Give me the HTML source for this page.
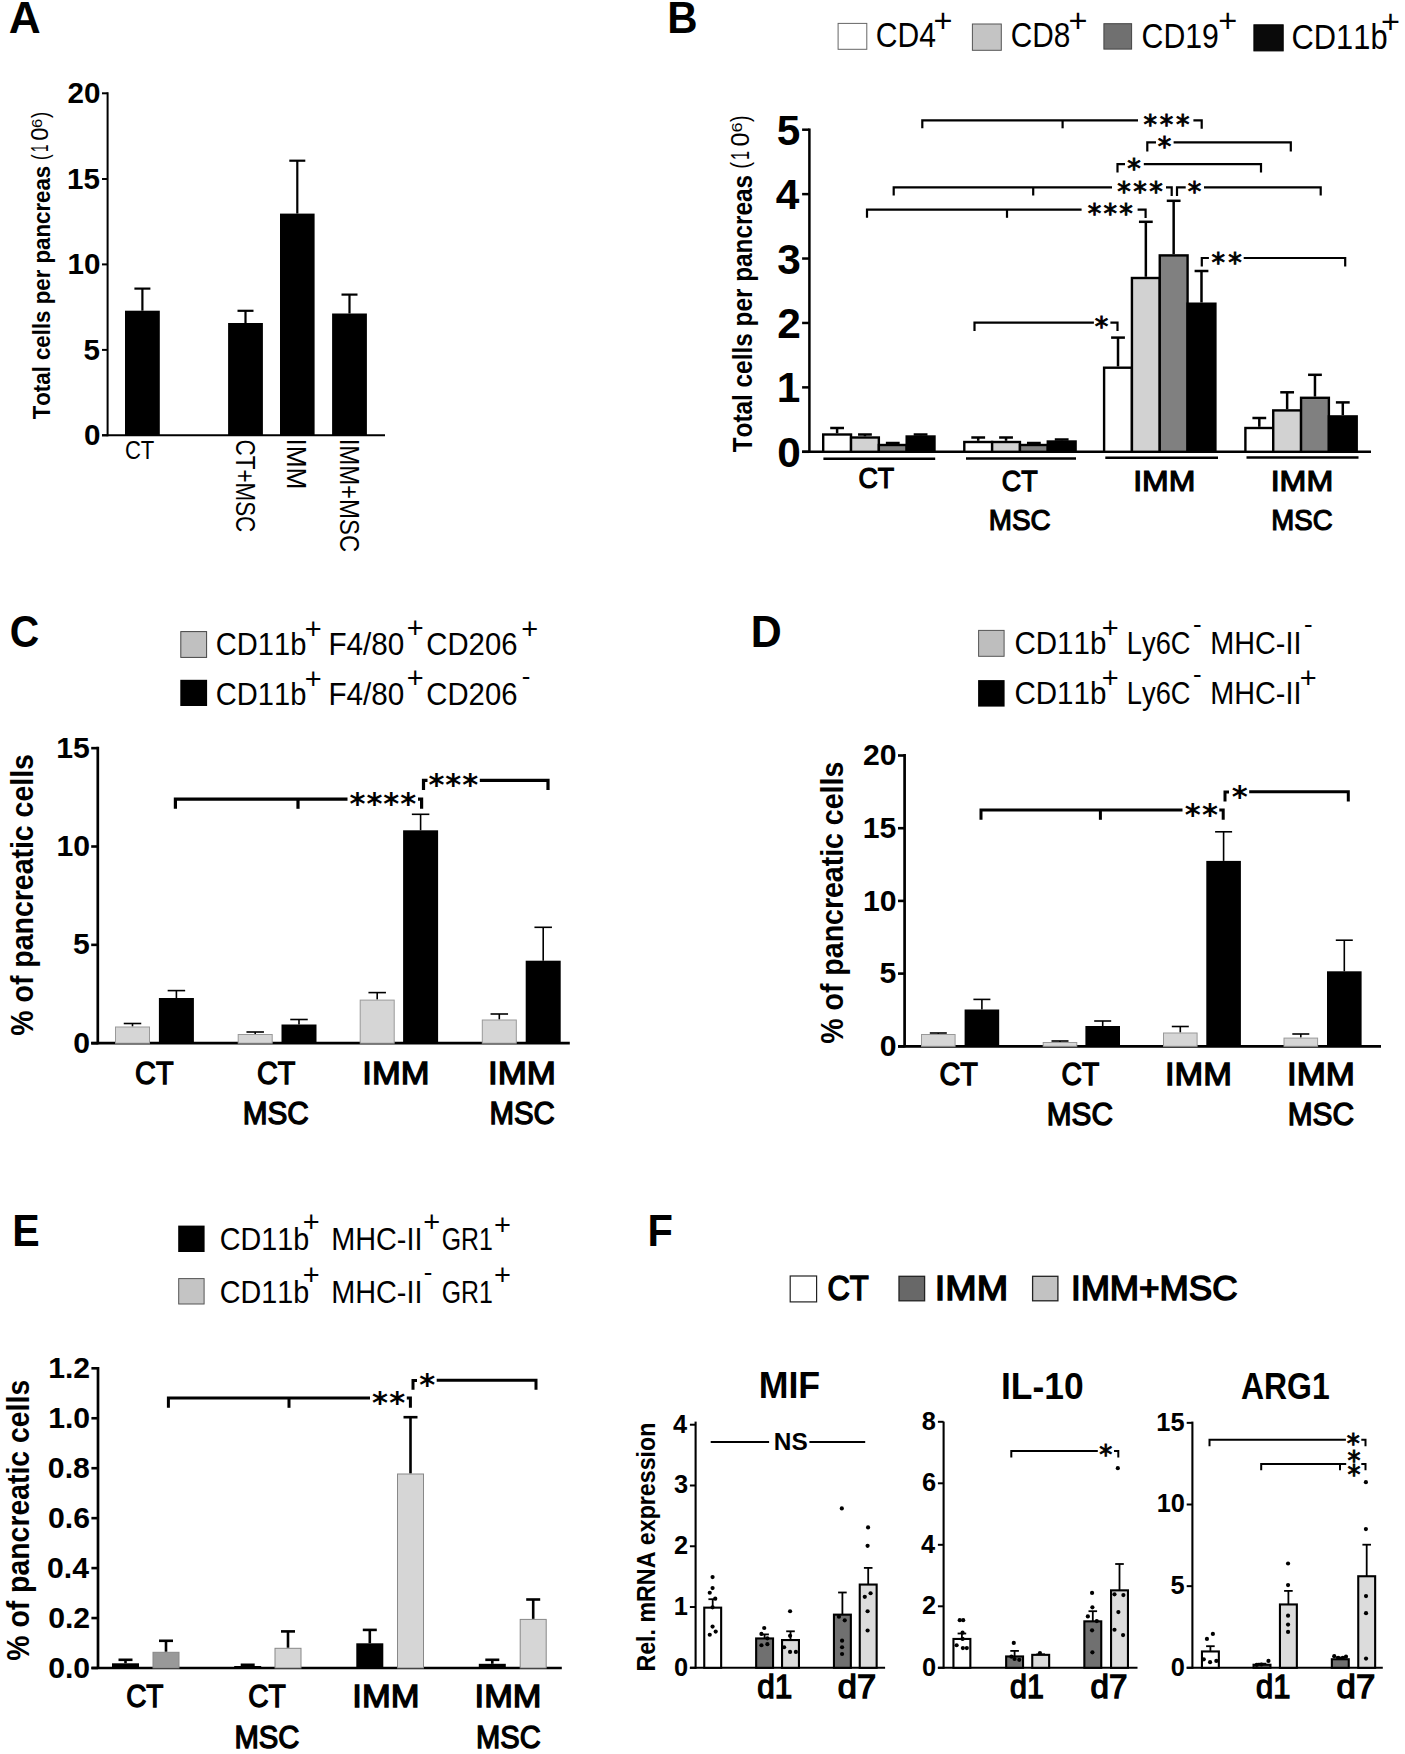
<!DOCTYPE html>
<html><head><meta charset="utf-8"><title>Figure</title>
<style>
html,body{margin:0;padding:0;background:#fff}
svg{display:block}
text{font-family:"Liberation Sans",sans-serif;fill:#000;stroke:none;font-kerning:none}
.b{font-weight:bold}
.sb{stroke:#000;stroke-linejoin:miter}
.stb{font-family:"DejaVu Sans",sans-serif;font-weight:bold}
.st{font-family:"DejaVu Sans",sans-serif;stroke:#000;stroke-width:0.9px}
line,polyline{stroke:#000;fill:none}
</style></head><body>
<svg width="1405" height="1754" viewBox="0 0 1405 1754">
<rect x="0" y="0" width="1405" height="1754" fill="#fff"/>
<!-- panel letters -->
<text class="b" transform="translate(8.7 32.6) scale(1.0177 1)" font-size="43.5">A</text>
<text class="b" transform="translate(667.29 32.6) scale(0.9650 1)" font-size="43.5">B</text>
<text class="b" transform="translate(9.63 646.5) scale(0.9388 1)" font-size="43.5">C</text>
<text class="b" transform="translate(750.73 646.9) scale(0.9858 1)" font-size="43.5">D</text>
<text class="b" transform="translate(12.15 1245.5) scale(0.9465 1)" font-size="43.5">E</text>
<text class="b" transform="translate(647.42 1245.8) scale(0.9561 1)" font-size="43.5">F</text>
<!-- panel A -->
<line x1="107.6" y1="92.3" x2="107.6" y2="436.3" stroke-width="2"/>
<line x1="102" y1="435.3" x2="385" y2="435.3" stroke-width="2"/>
<line x1="102" y1="93.3" x2="107.6" y2="93.3" stroke-width="2"/>
<text class="b" transform="translate(67.49 103.3) scale(1.0000 1)" font-size="29.6">20</text>
<line x1="102" y1="179" x2="107.6" y2="179" stroke-width="2"/>
<text class="b" transform="translate(67.1 189) scale(1.0000 1)" font-size="29.6">15</text>
<line x1="102" y1="264.4" x2="107.6" y2="264.4" stroke-width="2"/>
<text class="b" transform="translate(67.49 274.4) scale(1.0000 1)" font-size="29.6">10</text>
<line x1="102" y1="349.9" x2="107.6" y2="349.9" stroke-width="2"/>
<text class="b" transform="translate(83.56 359.9) scale(1.0000 1)" font-size="29.6">5</text>
<line x1="102" y1="435.3" x2="107.6" y2="435.3" stroke-width="2"/>
<text class="b" transform="translate(83.95 445.3) scale(1.0000 1)" font-size="29.6">0</text>
<text class="b" transform="translate(50.2 419.35) rotate(-90) scale(0.9241 1)" font-size="24.1">Total cells per pancreas</text>
<text transform="translate(48.2 160.05) rotate(-90) scale(0.7161 1)" font-size="23.7">(</text>
<text transform="translate(48.2 152.12) rotate(-90) scale(0.5676 1)" font-size="23.7">1</text>
<text transform="translate(48.2 140.83) rotate(-90) scale(1.0062 1)" font-size="23.7">0</text>
<text transform="translate(41.6 127.95) rotate(-90) scale(1.1835 1)" font-size="14.1">6</text>
<text transform="translate(48.2 118.11) rotate(-90) scale(0.7798 1)" font-size="23.7">)</text>
<line x1="142.4" y1="288.6" x2="142.4" y2="310.7" stroke-width="2.2"/>
<line x1="134.4" y1="288.6" x2="150.4" y2="288.6" stroke-width="2.2"/>
<rect x="125" y="310.7" width="34.8" height="124.6" fill="#000"/>
<line x1="245.5" y1="310.8" x2="245.5" y2="323" stroke-width="2.2"/>
<line x1="237.5" y1="310.8" x2="253.5" y2="310.8" stroke-width="2.2"/>
<rect x="228.1" y="323" width="34.8" height="112.3" fill="#000"/>
<line x1="297.3" y1="160.7" x2="297.3" y2="213.6" stroke-width="2.2"/>
<line x1="289.3" y1="160.7" x2="305.3" y2="160.7" stroke-width="2.2"/>
<rect x="280" y="213.6" width="34.6" height="221.7" fill="#000"/>
<line x1="349.5" y1="294.6" x2="349.5" y2="313.5" stroke-width="2.2"/>
<line x1="341.5" y1="294.6" x2="357.5" y2="294.6" stroke-width="2.2"/>
<rect x="332.1" y="313.5" width="34.8" height="121.8" fill="#000"/>
<text transform="translate(124.88 458.6) scale(0.8623 1)" font-size="25.6">CT</text>
<text transform="translate(236.2 439.56) rotate(90) scale(0.8303 1)" font-size="27">CT+MSC</text>
<text transform="translate(287.4 438.48) rotate(90) scale(0.9712 1)" font-size="27">IMM</text>
<text transform="translate(339.6 438.69) rotate(90) scale(0.8851 1)" font-size="27">IMM+MSC</text>
<!-- panel B -->
<line x1="809.4" y1="128.4" x2="809.4" y2="452.8" stroke-width="2.5"/>
<line x1="802.1" y1="451.8" x2="1371" y2="451.8" stroke-width="2.6"/>
<line x1="802.1" y1="451.8" x2="809.4" y2="451.8" stroke-width="2.5"/>
<text class="b" transform="translate(777.36 466.8) scale(1.0000 1)" font-size="42.4">0</text>
<line x1="802.1" y1="387.38" x2="809.4" y2="387.38" stroke-width="2.5"/>
<text class="b" transform="translate(776.8 402.38) scale(1.0000 1)" font-size="42.4">1</text>
<line x1="802.1" y1="322.96" x2="809.4" y2="322.96" stroke-width="2.5"/>
<text class="b" transform="translate(777.32 337.96) scale(1.0000 1)" font-size="42.4">2</text>
<line x1="802.1" y1="258.54" x2="809.4" y2="258.54" stroke-width="2.5"/>
<text class="b" transform="translate(777.15 273.54) scale(1.0000 1)" font-size="42.4">3</text>
<line x1="802.1" y1="194.12" x2="809.4" y2="194.12" stroke-width="2.5"/>
<text class="b" transform="translate(775.85 209.12) scale(1.0000 1)" font-size="42.4">4</text>
<line x1="802.1" y1="129.7" x2="809.4" y2="129.7" stroke-width="2.5"/>
<text class="b" transform="translate(776.8 144.7) scale(1.0000 1)" font-size="42.4">5</text>
<text class="b" transform="translate(751.7 452.37) rotate(-90) scale(0.9056 1)" font-size="26.9">Total cells per pancreas</text>
<text transform="translate(748.9 168.69) rotate(-90) scale(0.8199 1)" font-size="25.3">(</text>
<text transform="translate(748.9 159.95) rotate(-90) scale(0.6509 1)" font-size="25.3">1</text>
<text transform="translate(748.9 146.39) rotate(-90) scale(1.0005 1)" font-size="25.3">0</text>
<text transform="translate(741.9 132.52) rotate(-90) scale(1.1821 1)" font-size="15.4">6</text>
<text transform="translate(748.9 122.11) rotate(-90) scale(0.7752 1)" font-size="25.3">)</text>
<rect x="838.1" y="23.4" width="28.7" height="25.9" fill="#fff" stroke="#666" stroke-width="1"/>
<rect x="972.4" y="24" width="28.9" height="26.3" fill="#c4c4c4" stroke="#555" stroke-width="1"/>
<rect x="1103.9" y="23.7" width="27.7" height="25.4" fill="#707070" stroke="#444" stroke-width="1"/>
<rect x="1253.9" y="24.8" width="29.3" height="26.1" fill="#0a0a0a" stroke="#000" stroke-width="1"/>
<text transform="translate(875.87 47.4) scale(0.8699 1)" font-size="34.6">CD4</text>
<text transform="translate(933.61 32.01) scale(1.0003 1)" font-size="32.51">+</text>
<text transform="translate(1010.79 47.4) scale(0.8612 1)" font-size="34.6">CD8</text>
<text transform="translate(1068.61 32.01) scale(1.0003 1)" font-size="32.51">+</text>
<text transform="translate(1141.56 48.1) scale(0.8746 1)" font-size="34.6">CD19</text>
<text transform="translate(1218.21 31.81) scale(1.0003 1)" font-size="32.51">+</text>
<text transform="translate(1291.53 49) scale(0.8919 1)" font-size="34.6">CD11b</text>
<text transform="translate(1380.91 32.61) scale(1.0003 1)" font-size="32.51">+</text>
<line x1="837.11" y1="428" x2="837.11" y2="433.3" stroke-width="2.5"/>
<line x1="830.21" y1="428" x2="844.01" y2="428" stroke-width="2.5"/>
<rect x="823.2" y="434.5" width="27.82" height="17.3" fill="#fff" stroke="#000" stroke-width="2.4"/>
<line x1="864.94" y1="434.5" x2="864.94" y2="436.3" stroke-width="2.5"/>
<line x1="858.04" y1="434.5" x2="871.84" y2="434.5" stroke-width="2.5"/>
<rect x="851.03" y="437.5" width="27.82" height="14.3" fill="#d2d2d2" stroke="#000" stroke-width="2.4"/>
<line x1="892.76" y1="443" x2="892.76" y2="443.8" stroke-width="2.5"/>
<line x1="885.86" y1="443" x2="899.66" y2="443" stroke-width="2.5"/>
<rect x="878.85" y="445" width="27.82" height="6.8" fill="#808080" stroke="#000" stroke-width="2.4"/>
<line x1="920.59" y1="434.5" x2="920.59" y2="435.3" stroke-width="2.5"/>
<line x1="913.69" y1="434.5" x2="927.49" y2="434.5" stroke-width="2.5"/>
<rect x="906.68" y="436.5" width="27.82" height="15.3" fill="#000" stroke="#000" stroke-width="2.4"/>
<line x1="978.21" y1="437.5" x2="978.21" y2="440.8" stroke-width="2.5"/>
<line x1="971.31" y1="437.5" x2="985.11" y2="437.5" stroke-width="2.5"/>
<rect x="964.3" y="442" width="27.82" height="9.8" fill="#fff" stroke="#000" stroke-width="2.4"/>
<line x1="1006.04" y1="437.5" x2="1006.04" y2="440.8" stroke-width="2.5"/>
<line x1="999.14" y1="437.5" x2="1012.94" y2="437.5" stroke-width="2.5"/>
<rect x="992.13" y="442" width="27.82" height="9.8" fill="#d2d2d2" stroke="#000" stroke-width="2.4"/>
<line x1="1033.86" y1="443" x2="1033.86" y2="443.8" stroke-width="2.5"/>
<line x1="1026.96" y1="443" x2="1040.76" y2="443" stroke-width="2.5"/>
<rect x="1019.95" y="445" width="27.83" height="6.8" fill="#808080" stroke="#000" stroke-width="2.4"/>
<line x1="1061.69" y1="439.5" x2="1061.69" y2="440.3" stroke-width="2.5"/>
<line x1="1054.79" y1="439.5" x2="1068.59" y2="439.5" stroke-width="2.5"/>
<rect x="1047.78" y="441.5" width="27.83" height="10.3" fill="#000" stroke="#000" stroke-width="2.4"/>
<line x1="1118.01" y1="337.6" x2="1118.01" y2="366.5" stroke-width="2.5"/>
<line x1="1111.11" y1="337.6" x2="1124.91" y2="337.6" stroke-width="2.5"/>
<rect x="1104.1" y="367.7" width="27.83" height="84.1" fill="#fff" stroke="#000" stroke-width="2.4"/>
<line x1="1145.84" y1="221.8" x2="1145.84" y2="276.8" stroke-width="2.5"/>
<line x1="1138.94" y1="221.8" x2="1152.74" y2="221.8" stroke-width="2.5"/>
<rect x="1131.93" y="278" width="27.83" height="173.8" fill="#d2d2d2" stroke="#000" stroke-width="2.4"/>
<line x1="1173.66" y1="200.8" x2="1173.66" y2="254.2" stroke-width="2.5"/>
<line x1="1166.76" y1="200.8" x2="1180.56" y2="200.8" stroke-width="2.5"/>
<rect x="1159.75" y="255.4" width="27.83" height="196.4" fill="#808080" stroke="#000" stroke-width="2.4"/>
<line x1="1201.49" y1="271" x2="1201.49" y2="302.5" stroke-width="2.5"/>
<line x1="1194.59" y1="271" x2="1208.39" y2="271" stroke-width="2.5"/>
<rect x="1187.58" y="303.7" width="27.83" height="148.1" fill="#000" stroke="#000" stroke-width="2.4"/>
<line x1="1259.31" y1="418" x2="1259.31" y2="426.8" stroke-width="2.5"/>
<line x1="1252.41" y1="418" x2="1266.21" y2="418" stroke-width="2.5"/>
<rect x="1245.4" y="428" width="27.83" height="23.8" fill="#fff" stroke="#000" stroke-width="2.4"/>
<line x1="1287.14" y1="392.3" x2="1287.14" y2="409.2" stroke-width="2.5"/>
<line x1="1280.24" y1="392.3" x2="1294.04" y2="392.3" stroke-width="2.5"/>
<rect x="1273.23" y="410.4" width="27.83" height="41.4" fill="#d2d2d2" stroke="#000" stroke-width="2.4"/>
<line x1="1314.96" y1="374.8" x2="1314.96" y2="396.6" stroke-width="2.5"/>
<line x1="1308.06" y1="374.8" x2="1321.86" y2="374.8" stroke-width="2.5"/>
<rect x="1301.05" y="397.8" width="27.83" height="54" fill="#808080" stroke="#000" stroke-width="2.4"/>
<line x1="1342.79" y1="402.4" x2="1342.79" y2="415.2" stroke-width="2.5"/>
<line x1="1335.89" y1="402.4" x2="1349.69" y2="402.4" stroke-width="2.5"/>
<rect x="1328.88" y="416.4" width="27.83" height="35.4" fill="#000" stroke="#000" stroke-width="2.4"/>
<line x1="823.4" y1="458.8" x2="935.2" y2="458.8" stroke-width="2.5"/>
<line x1="966" y1="458.4" x2="1076" y2="458.4" stroke-width="2.5"/>
<line x1="1105.3" y1="457.7" x2="1218" y2="457.7" stroke-width="2.5"/>
<line x1="1246.5" y1="457.6" x2="1358.5" y2="457.6" stroke-width="2.5"/>
<text class="sb" transform="translate(858.46 488.28) scale(0.8968 1)" font-size="29.89" stroke-width="1.25">CT</text>
<text class="sb" transform="translate(1001.76 491.28) scale(0.8995 1)" font-size="29.89" stroke-width="1.25">CT</text>
<text class="sb" transform="translate(988.74 529.98) scale(0.9320 1)" font-size="29.89" stroke-width="1.25">MSC</text>
<text class="sb" transform="translate(1133.17 491.08) scale(1.0693 1)" font-size="29.89" stroke-width="1.25">IMM</text>
<text class="sb" transform="translate(1270.65 491.08) scale(1.0769 1)" font-size="29.89" stroke-width="1.25">IMM</text>
<text class="sb" transform="translate(1271.36 529.98) scale(0.9225 1)" font-size="29.89" stroke-width="1.25">MSC</text>
<polyline points="922.3,128.3 922.3,120.3 1138,120.3" stroke-width="2.2"/>
<line x1="1062.6" y1="120.3" x2="1062.6" y2="128.3" stroke-width="2.2"/>
<text class="st" x="1143.59 1159.75 1175.91" y="133.94" font-size="27">***</text>
<polyline points="1193.4,120.3 1201.7,120.3 1201.7,128.7" stroke-width="2.2"/>
<polyline points="1147.3,151.4 1147.3,142.4 1156,142.4" stroke-width="2.2"/>
<text class="st" x="1157.75" y="156.03" font-size="27">*</text>
<polyline points="1173.6,142.4 1290.8,142.4 1290.8,151.4" stroke-width="2.2"/>
<polyline points="1117.5,172.6 1117.5,164.2 1125,164.2" stroke-width="2.2"/>
<text class="st" x="1127.35" y="177.83" font-size="27">*</text>
<polyline points="1143.8,164.2 1261,164.2 1261,172.6" stroke-width="2.2"/>
<polyline points="893.7,195.5 893.7,187.4 1112,187.4" stroke-width="2.2"/>
<line x1="1033.2" y1="187.4" x2="1033.2" y2="195.5" stroke-width="2.2"/>
<text class="st" x="1117.19 1133.25 1149.31" y="201.03" font-size="27">***</text>
<polyline points="1166,187.4 1171.7,187.4 1171.7,196" stroke-width="2.2"/>
<polyline points="1177,196 1177,187.4 1185.7,187.4" stroke-width="2.2"/>
<text class="st" x="1187.75" y="201.03" font-size="27">*</text>
<polyline points="1204,187.4 1320.7,187.4 1320.7,195.5" stroke-width="2.2"/>
<polyline points="867,217.8 867,209.7 1081.6,209.7" stroke-width="2.2"/>
<line x1="1007" y1="209.7" x2="1007" y2="217.8" stroke-width="2.2"/>
<text class="st" x="1087.79 1103.55 1119.31" y="223.33" font-size="27">***</text>
<polyline points="1137.6,209.7 1145.6,209.7 1145.6,218" stroke-width="2.2"/>
<polyline points="1201.8,266.6 1201.8,258 1208.9,258" stroke-width="2.2"/>
<text class="st" x="1211.39 1228.21" y="271.63" font-size="27">**</text>
<polyline points="1243.7,258 1345.2,258 1345.2,266.6" stroke-width="2.2"/>
<polyline points="974.5,331 974.5,322.6 1093.9,322.6" stroke-width="2.2"/>
<text class="st" x="1094.85" y="336.24" font-size="27">*</text>
<polyline points="1110.4,322.6 1117.5,322.6 1117.5,331" stroke-width="2.2"/>
<!-- panel C -->
<line x1="97.8" y1="746.8" x2="97.8" y2="1044.2" stroke-width="2.7"/>
<line x1="91.2" y1="1043.2" x2="569.8" y2="1043.2" stroke-width="2.7"/>
<line x1="91.2" y1="1043.2" x2="97.8" y2="1043.2" stroke-width="2.6"/>
<text class="b" transform="translate(73.34 1052.8) scale(1.0000 1)" font-size="30.2">0</text>
<line x1="91.2" y1="944.85" x2="97.8" y2="944.85" stroke-width="2.6"/>
<text class="b" transform="translate(72.94 954.45) scale(1.0000 1)" font-size="30.2">5</text>
<line x1="91.2" y1="846.5" x2="97.8" y2="846.5" stroke-width="2.6"/>
<text class="b" transform="translate(56.55 856.1) scale(1.0000 1)" font-size="30.2">10</text>
<line x1="91.2" y1="748.15" x2="97.8" y2="748.15" stroke-width="2.6"/>
<text class="b" transform="translate(56.15 757.75) scale(1.0000 1)" font-size="30.2">15</text>
<text class="b" transform="translate(32.8 1035.71) rotate(-90) scale(0.9188 1)" font-size="31">% of pancreatic cells</text>
<rect x="180.8" y="631.6" width="25.8" height="25.8" fill="#c0c0c0" stroke="#444" stroke-width="1"/>
<rect x="180.3" y="679.8" width="26.8" height="26.2" fill="#000"/>
<text transform="translate(215.82 654.6) scale(0.9067 1)" font-size="32.1">CD11b</text>
<text transform="translate(304.63 639.25) scale(1.0003 1)" font-size="29.01">+</text>
<text transform="translate(328.47 654.6) scale(0.9246 1)" font-size="32.1">F4/80</text>
<text transform="translate(406.83 637.85) scale(1.0003 1)" font-size="29.01">+</text>
<text transform="translate(426.31 654.6) scale(0.9125 1)" font-size="32.1">CD206</text>
<text transform="translate(215.82 704.7) scale(0.9067 1)" font-size="32.1">CD11b</text>
<text transform="translate(304.63 689.25) scale(1.0003 1)" font-size="29.01">+</text>
<text transform="translate(328.47 704.7) scale(0.9246 1)" font-size="32.1">F4/80</text>
<text transform="translate(406.83 687.85) scale(1.0003 1)" font-size="29.01">+</text>
<text transform="translate(426.31 704.7) scale(0.9125 1)" font-size="32.1">CD206</text>
<text transform="translate(521.33 639.15) scale(1.0003 1)" font-size="29.01">+</text>
<text transform="translate(521.8 685.04) scale(1.0035 1)" font-size="25.71">-</text>
<line x1="132.5" y1="1023.5" x2="132.5" y2="1026.5" stroke-width="1.6"/>
<line x1="123.75" y1="1023.5" x2="141.25" y2="1023.5" stroke-width="1.6"/>
<rect x="115.5" y="1027" width="34" height="16.2" fill="#d6d6d6" stroke="#999" stroke-width="1"/>
<line x1="176.4" y1="990.6" x2="176.4" y2="998" stroke-width="1.6"/>
<line x1="167.65" y1="990.6" x2="185.15" y2="990.6" stroke-width="1.6"/>
<rect x="158.9" y="998" width="35" height="45.2" fill="#000"/>
<line x1="255.2" y1="1032" x2="255.2" y2="1034" stroke-width="1.6"/>
<line x1="246.45" y1="1032" x2="263.95" y2="1032" stroke-width="1.6"/>
<rect x="238.2" y="1034.5" width="34" height="8.7" fill="#d6d6d6" stroke="#999" stroke-width="1"/>
<line x1="299" y1="1019.5" x2="299" y2="1024.5" stroke-width="1.6"/>
<line x1="290.25" y1="1019.5" x2="307.75" y2="1019.5" stroke-width="1.6"/>
<rect x="281.5" y="1024.5" width="35" height="18.7" fill="#000"/>
<line x1="377.2" y1="992.6" x2="377.2" y2="999.6" stroke-width="1.6"/>
<line x1="368.45" y1="992.6" x2="385.95" y2="992.6" stroke-width="1.6"/>
<rect x="360.2" y="1000.1" width="34" height="43.1" fill="#d6d6d6" stroke="#999" stroke-width="1"/>
<line x1="420.6" y1="814.3" x2="420.6" y2="830.3" stroke-width="1.6"/>
<line x1="411.85" y1="814.3" x2="429.35" y2="814.3" stroke-width="1.6"/>
<rect x="403.1" y="830.3" width="35" height="212.9" fill="#000"/>
<line x1="499.3" y1="1014" x2="499.3" y2="1019.5" stroke-width="1.6"/>
<line x1="490.55" y1="1014" x2="508.05" y2="1014" stroke-width="1.6"/>
<rect x="482.3" y="1020" width="34" height="23.2" fill="#d6d6d6" stroke="#999" stroke-width="1"/>
<line x1="543.2" y1="927.3" x2="543.2" y2="960.7" stroke-width="1.6"/>
<line x1="534.45" y1="927.3" x2="551.95" y2="927.3" stroke-width="1.6"/>
<rect x="525.7" y="960.7" width="35" height="82.5" fill="#000"/>
<text class="sb" transform="translate(135.1 1084.13) scale(0.9011 1)" font-size="31.96" stroke-width="1.33">CT</text>
<text class="sb" transform="translate(257 1084.13) scale(0.9011 1)" font-size="31.96" stroke-width="1.33">CT</text>
<text class="sb" transform="translate(242.73 1124.33) scale(0.9313 1)" font-size="31.96" stroke-width="1.33">MSC</text>
<text class="sb" transform="translate(362.28 1084.13) scale(1.0815 1)" font-size="31.96" stroke-width="1.33">IMM</text>
<text class="sb" transform="translate(487.94 1084.13) scale(1.0939 1)" font-size="31.96" stroke-width="1.33">IMM</text>
<text class="sb" transform="translate(489.45 1124.33) scale(0.9208 1)" font-size="31.96" stroke-width="1.33">MSC</text>
<polyline points="175.4,808.8 175.4,799.2 347.5,799.2" stroke-width="3.2"/>
<line x1="298" y1="799.2" x2="298" y2="808.8" stroke-width="3.2"/>
<text class="stb" x="349.59 366.45 383.3 400.16" y="813.85" font-size="30.5">****</text>
<polyline points="418,799.2 421.6,799.2 421.6,808.8" stroke-width="3.2"/>
<polyline points="423.5,789.9 423.5,780.4 427.5,780.4" stroke-width="3.2"/>
<text class="stb" x="428.39 445.37 462.36" y="795.25" font-size="30.5">***</text>
<polyline points="479.8,780.4 548,780.4 548,789.9" stroke-width="3.2"/>
<!-- panel D -->
<line x1="904.6" y1="754" x2="904.6" y2="1047.3" stroke-width="2.7"/>
<line x1="898" y1="1046.3" x2="1381" y2="1046.3" stroke-width="2.7"/>
<line x1="898" y1="1046.3" x2="904.6" y2="1046.3" stroke-width="2.6"/>
<text class="b" transform="translate(879.84 1055.9) scale(1.0000 1)" font-size="30.2">0</text>
<line x1="898" y1="973.6" x2="904.6" y2="973.6" stroke-width="2.6"/>
<text class="b" transform="translate(879.44 983.2) scale(1.0000 1)" font-size="30.2">5</text>
<line x1="898" y1="900.9" x2="904.6" y2="900.9" stroke-width="2.6"/>
<text class="b" transform="translate(863.05 910.5) scale(1.0000 1)" font-size="30.2">10</text>
<line x1="898" y1="828.2" x2="904.6" y2="828.2" stroke-width="2.6"/>
<text class="b" transform="translate(862.65 837.8) scale(1.0000 1)" font-size="30.2">15</text>
<line x1="898" y1="755.5" x2="904.6" y2="755.5" stroke-width="2.6"/>
<text class="b" transform="translate(863.05 765.1) scale(1.0000 1)" font-size="30.2">20</text>
<text class="b" transform="translate(843.3 1043.71) rotate(-90) scale(0.9201 1)" font-size="31">% of pancreatic cells</text>
<rect x="978.6" y="630.4" width="25.5" height="25.9" fill="#bebebe" stroke="#555" stroke-width="1"/>
<rect x="978.1" y="680.1" width="26.5" height="26.5" fill="#000"/>
<text transform="translate(1014.4 654) scale(0.9212 1)" font-size="32.1">CD11b</text>
<text transform="translate(1101.73 637.65) scale(1.0003 1)" font-size="29.01">+</text>
<text transform="translate(1126.86 654) scale(0.8497 1)" font-size="32.1">Ly6C</text>
<text transform="translate(1193 632.84) scale(1.0035 1)" font-size="25.71">-</text>
<text transform="translate(1210.34 654) scale(0.8966 1)" font-size="32.1">MHC-II</text>
<text transform="translate(1014.4 703.8) scale(0.9212 1)" font-size="32.1">CD11b</text>
<text transform="translate(1101.73 687.65) scale(1.0003 1)" font-size="29.01">+</text>
<text transform="translate(1126.86 703.8) scale(0.8497 1)" font-size="32.1">Ly6C</text>
<text transform="translate(1193 682.84) scale(1.0035 1)" font-size="25.71">-</text>
<text transform="translate(1210.34 703.8) scale(0.8966 1)" font-size="32.1">MHC-II</text>
<text transform="translate(1304 633.24) scale(1.0035 1)" font-size="25.71">-</text>
<text transform="translate(1299.73 687.55) scale(1.0003 1)" font-size="29.01">+</text>
<line x1="938.3" y1="1033" x2="938.3" y2="1034" stroke-width="1.6"/>
<line x1="929.8" y1="1033" x2="946.8" y2="1033" stroke-width="1.6"/>
<rect x="921.5" y="1034.5" width="33.6" height="11.8" fill="#d6d6d6" stroke="#999" stroke-width="1"/>
<line x1="981.9" y1="999.4" x2="981.9" y2="1009.5" stroke-width="1.6"/>
<line x1="973.4" y1="999.4" x2="990.4" y2="999.4" stroke-width="1.6"/>
<rect x="964.6" y="1009.5" width="34.6" height="36.8" fill="#000"/>
<line x1="1060" y1="1041" x2="1060" y2="1042" stroke-width="1.6"/>
<line x1="1051.5" y1="1041" x2="1068.5" y2="1041" stroke-width="1.6"/>
<rect x="1043.2" y="1042.5" width="33.6" height="3.8" fill="#d6d6d6" stroke="#999" stroke-width="1"/>
<line x1="1102.7" y1="1021" x2="1102.7" y2="1026" stroke-width="1.6"/>
<line x1="1094.2" y1="1021" x2="1111.2" y2="1021" stroke-width="1.6"/>
<rect x="1085.4" y="1026" width="34.6" height="20.3" fill="#000"/>
<line x1="1180.3" y1="1026.5" x2="1180.3" y2="1032.5" stroke-width="1.6"/>
<line x1="1171.8" y1="1026.5" x2="1188.8" y2="1026.5" stroke-width="1.6"/>
<rect x="1163.5" y="1033" width="33.6" height="13.3" fill="#d6d6d6" stroke="#999" stroke-width="1"/>
<line x1="1223.6" y1="831.8" x2="1223.6" y2="860.9" stroke-width="1.6"/>
<line x1="1215.1" y1="831.8" x2="1232.1" y2="831.8" stroke-width="1.6"/>
<rect x="1206.3" y="860.9" width="34.6" height="185.4" fill="#000"/>
<line x1="1300.8" y1="1034" x2="1300.8" y2="1037.6" stroke-width="1.6"/>
<line x1="1292.3" y1="1034" x2="1309.3" y2="1034" stroke-width="1.6"/>
<rect x="1284" y="1038.1" width="33.6" height="8.2" fill="#d6d6d6" stroke="#999" stroke-width="1"/>
<line x1="1344.3" y1="940.2" x2="1344.3" y2="971.3" stroke-width="1.6"/>
<line x1="1335.8" y1="940.2" x2="1352.8" y2="940.2" stroke-width="1.6"/>
<rect x="1327" y="971.3" width="34.6" height="75" fill="#000"/>
<text class="sb" transform="translate(939.5 1085.13) scale(0.9011 1)" font-size="31.96" stroke-width="1.33">CT</text>
<text class="sb" transform="translate(1061.53 1085.13) scale(0.8837 1)" font-size="31.96" stroke-width="1.33">CT</text>
<text class="sb" transform="translate(1046.83 1125.33) scale(0.9313 1)" font-size="31.96" stroke-width="1.33">MSC</text>
<text class="sb" transform="translate(1164.99 1085.13) scale(1.0762 1)" font-size="31.96" stroke-width="1.33">IMM</text>
<text class="sb" transform="translate(1286.94 1085.13) scale(1.0939 1)" font-size="31.96" stroke-width="1.33">IMM</text>
<text class="sb" transform="translate(1287.71 1125.33) scale(0.9357 1)" font-size="31.96" stroke-width="1.33">MSC</text>
<polyline points="981,819.8 981,810 1182.5,810" stroke-width="3"/>
<line x1="1100.4" y1="810" x2="1100.4" y2="819.8" stroke-width="3"/>
<text class="stb" x="1184.69 1201.96" y="825.15" font-size="30.5">**</text>
<polyline points="1219.3,810 1223.2,810 1223.2,819.8" stroke-width="3"/>
<polyline points="1225,801.4 1225,791.9 1229,791.9" stroke-width="3"/>
<text class="stb" x="1231.72" y="806.65" font-size="30.5">*</text>
<polyline points="1249.2,791.8 1348.3,791.8 1348.3,801.4" stroke-width="3"/>
<!-- panel E -->
<line x1="98" y1="1367" x2="98" y2="1669" stroke-width="2.7"/>
<line x1="91.4" y1="1668" x2="561.8" y2="1668" stroke-width="2.7"/>
<line x1="91.4" y1="1668" x2="98" y2="1668" stroke-width="2.6"/>
<text class="b" transform="translate(48.16 1677.6) scale(1.0000 1)" font-size="30.2">0.0</text>
<line x1="91.4" y1="1618.05" x2="98" y2="1618.05" stroke-width="2.6"/>
<text class="b" transform="translate(48.13 1627.65) scale(1.0000 1)" font-size="30.2">0.2</text>
<line x1="91.4" y1="1568.1" x2="98" y2="1568.1" stroke-width="2.6"/>
<text class="b" transform="translate(47.08 1577.7) scale(1.0000 1)" font-size="30.2">0.4</text>
<line x1="91.4" y1="1518.15" x2="98" y2="1518.15" stroke-width="2.6"/>
<text class="b" transform="translate(48.01 1527.75) scale(1.0000 1)" font-size="30.2">0.6</text>
<line x1="91.4" y1="1468.2" x2="98" y2="1468.2" stroke-width="2.6"/>
<text class="b" transform="translate(47.85 1477.8) scale(1.0000 1)" font-size="30.2">0.8</text>
<line x1="91.4" y1="1418.25" x2="98" y2="1418.25" stroke-width="2.6"/>
<text class="b" transform="translate(48.16 1427.85) scale(1.0000 1)" font-size="30.2">1.0</text>
<line x1="91.4" y1="1368.3" x2="98" y2="1368.3" stroke-width="2.6"/>
<text class="b" transform="translate(48.13 1377.9) scale(1.0000 1)" font-size="30.2">1.2</text>
<text class="b" transform="translate(28.7 1660.71) rotate(-90) scale(0.9162 1)" font-size="31">% of pancreatic cells</text>
<rect x="178.2" y="1225.6" width="26.4" height="26.4" fill="#000"/>
<rect x="178.7" y="1278.6" width="25.4" height="25.4" fill="#c4c4c4" stroke="#555" stroke-width="1"/>
<text transform="translate(219.74 1250) scale(0.8954 1)" font-size="32.1">CD11b</text>
<text transform="translate(302.83 1232.35) scale(1.0003 1)" font-size="29.01">+</text>
<text transform="translate(331.13 1250) scale(0.8986 1)" font-size="32.1">MHC-II</text>
<text transform="translate(441.65 1250) scale(0.7736 1)" font-size="32.1">GR1</text>
<text transform="translate(219.74 1302.5) scale(0.8954 1)" font-size="32.1">CD11b</text>
<text transform="translate(302.83 1284.95) scale(1.0003 1)" font-size="29.01">+</text>
<text transform="translate(331.13 1302.5) scale(0.8986 1)" font-size="32.1">MHC-II</text>
<text transform="translate(441.65 1302.5) scale(0.7736 1)" font-size="32.1">GR1</text>
<text transform="translate(423.23 1232.35) scale(1.0003 1)" font-size="29.01">+</text>
<text transform="translate(423.8 1281.14) scale(1.0035 1)" font-size="25.71">-</text>
<text transform="translate(493.93 1234.85) scale(1.0003 1)" font-size="29.01">+</text>
<text transform="translate(493.93 1285.45) scale(1.0003 1)" font-size="29.01">+</text>
<line x1="125.5" y1="1659.8" x2="125.5" y2="1663.3" stroke-width="2.6"/>
<line x1="118.5" y1="1659.8" x2="132.5" y2="1659.8" stroke-width="2.6"/>
<rect x="112" y="1663.3" width="27" height="4.7" fill="#000"/>
<line x1="166" y1="1640.8" x2="166" y2="1651.8" stroke-width="2.6"/>
<line x1="159" y1="1640.8" x2="173" y2="1640.8" stroke-width="2.6"/>
<rect x="153" y="1652.3" width="26" height="15.7" fill="#999" stroke="#888" stroke-width="1"/>
<line x1="247.7" y1="1664.8" x2="247.7" y2="1666" stroke-width="2.6"/>
<line x1="240.7" y1="1664.8" x2="254.7" y2="1664.8" stroke-width="2.6"/>
<rect x="234.2" y="1666" width="27" height="2" fill="#000"/>
<line x1="288" y1="1631.4" x2="288" y2="1647.8" stroke-width="2.6"/>
<line x1="281" y1="1631.4" x2="295" y2="1631.4" stroke-width="2.6"/>
<rect x="275" y="1648.3" width="26" height="19.7" fill="#d6d6d6" stroke="#888" stroke-width="1"/>
<line x1="369.8" y1="1629.9" x2="369.8" y2="1643.3" stroke-width="2.6"/>
<line x1="362.8" y1="1629.9" x2="376.8" y2="1629.9" stroke-width="2.6"/>
<rect x="356.3" y="1643.3" width="27" height="24.7" fill="#000"/>
<line x1="410.5" y1="1417.2" x2="410.5" y2="1473.5" stroke-width="2.6"/>
<line x1="403.5" y1="1417.2" x2="417.5" y2="1417.2" stroke-width="2.6"/>
<rect x="397.5" y="1474" width="26" height="194" fill="#d6d6d6" stroke="#888" stroke-width="1"/>
<line x1="492.3" y1="1659.8" x2="492.3" y2="1663.8" stroke-width="2.6"/>
<line x1="485.3" y1="1659.8" x2="499.3" y2="1659.8" stroke-width="2.6"/>
<rect x="478.8" y="1663.8" width="27" height="4.2" fill="#000"/>
<line x1="533.2" y1="1599.5" x2="533.2" y2="1618.9" stroke-width="2.6"/>
<line x1="526.2" y1="1599.5" x2="540.2" y2="1599.5" stroke-width="2.6"/>
<rect x="520.2" y="1619.4" width="26" height="48.6" fill="#d6d6d6" stroke="#888" stroke-width="1"/>
<text class="sb" transform="translate(126.14 1707.13) scale(0.8762 1)" font-size="31.96" stroke-width="1.33">CT</text>
<text class="sb" transform="translate(248.13 1707.13) scale(0.8837 1)" font-size="31.96" stroke-width="1.33">CT</text>
<text class="sb" transform="translate(234.46 1748.03) scale(0.9164 1)" font-size="31.96" stroke-width="1.33">MSC</text>
<text class="sb" transform="translate(352.28 1707.13) scale(1.0815 1)" font-size="31.96" stroke-width="1.33">IMM</text>
<text class="sb" transform="translate(474.59 1707.13) scale(1.0762 1)" font-size="31.96" stroke-width="1.33">IMM</text>
<text class="sb" transform="translate(476.08 1748.03) scale(0.9104 1)" font-size="31.96" stroke-width="1.33">MSC</text>
<polyline points="168.4,1407.8 168.4,1398.1 370,1398.1" stroke-width="3"/>
<line x1="289" y1="1398.1" x2="289" y2="1407.8" stroke-width="3"/>
<text class="stb" x="371.89 389.16" y="1413.35" font-size="30.5">**</text>
<polyline points="406.8,1398.1 410.4,1398.1 410.4,1407.8" stroke-width="3"/>
<polyline points="413,1389.7 413,1380.4 417,1380.4" stroke-width="3"/>
<text class="stb" x="419.32" y="1395.15" font-size="30.5">*</text>
<polyline points="436.7,1380.3 536,1380.3 536,1389.7" stroke-width="3"/>
<!-- panel F -->
<rect x="790.2" y="1276" width="26.4" height="25.9" fill="#fff" stroke="#222" stroke-width="1.2"/>
<rect x="899" y="1276.3" width="25.6" height="24.5" fill="#686868" stroke="#222" stroke-width="1.3"/>
<rect x="1032.6" y="1276.3" width="25.3" height="24.5" fill="#c2c2c2" stroke="#222" stroke-width="1.3"/>
<text class="sb" transform="translate(827.44 1299.98) scale(0.8989 1)" font-size="34.51" stroke-width="1.44">CT</text>
<text class="sb" transform="translate(934.84 1299.98) scale(1.0933 1)" font-size="34.51" stroke-width="1.44">IMM</text>
<text class="sb" transform="translate(1070.88 1299.98) scale(1.0173 1)" font-size="34.51" stroke-width="1.44">IMM+MSC</text>
<text class="b" transform="translate(758.71 1398) scale(0.9743 1)" font-size="36.6">MIF</text>
<text class="b" transform="translate(1000.93 1398.6) scale(0.9684 1)" font-size="36.6">IL-10</text>
<text class="b" transform="translate(1240.9 1398.6) scale(0.8731 1)" font-size="36.6">ARG1</text>
<text class="b" transform="translate(654.5 1671.55) rotate(-90) scale(0.9140 1)" font-size="25.4">Rel. mRNA expression</text>
<line x1="695.6" y1="1421.6" x2="695.6" y2="1668.8" stroke-width="2.1"/>
<line x1="689.9" y1="1667.8" x2="885.1" y2="1667.8" stroke-width="2.1"/>
<line x1="689.9" y1="1667.8" x2="695.6" y2="1667.8" stroke-width="2"/>
<text class="b" transform="translate(674.02 1675.7) scale(1.0000 1)" font-size="25.4">0</text>
<line x1="689.9" y1="1607.03" x2="695.6" y2="1607.03" stroke-width="2"/>
<text class="b" transform="translate(673.68 1614.93) scale(1.0000 1)" font-size="25.4">1</text>
<line x1="689.9" y1="1546.26" x2="695.6" y2="1546.26" stroke-width="2"/>
<text class="b" transform="translate(673.99 1554.16) scale(1.0000 1)" font-size="25.4">2</text>
<line x1="689.9" y1="1485.49" x2="695.6" y2="1485.49" stroke-width="2"/>
<text class="b" transform="translate(673.89 1493.39) scale(1.0000 1)" font-size="25.4">3</text>
<line x1="689.9" y1="1424.72" x2="695.6" y2="1424.72" stroke-width="2"/>
<text class="b" transform="translate(673.11 1432.62) scale(1.0000 1)" font-size="25.4">4</text>
<line x1="712.7" y1="1599.2" x2="712.7" y2="1616" stroke-width="1.8"/>
<line x1="708.4" y1="1599.2" x2="717" y2="1599.2" stroke-width="1.8"/>
<line x1="708.4" y1="1616" x2="717" y2="1616" stroke-width="1.8"/>
<rect x="704.25" y="1607.65" width="16.9" height="60.15" fill="#fff" stroke="#000" stroke-width="2.1"/>
<line x1="764.6" y1="1634.4" x2="764.6" y2="1642.4" stroke-width="1.8"/>
<line x1="760.3" y1="1634.4" x2="768.9" y2="1634.4" stroke-width="1.8"/>
<line x1="760.3" y1="1642.4" x2="768.9" y2="1642.4" stroke-width="1.8"/>
<rect x="756.15" y="1638.45" width="16.9" height="29.35" fill="#707070" stroke="#000" stroke-width="2.1"/>
<line x1="790.5" y1="1631.3" x2="790.5" y2="1648.7" stroke-width="1.8"/>
<line x1="786.2" y1="1631.3" x2="794.8" y2="1631.3" stroke-width="1.8"/>
<line x1="786.2" y1="1648.7" x2="794.8" y2="1648.7" stroke-width="1.8"/>
<rect x="782.05" y="1640.05" width="16.9" height="27.75" fill="#dcdcdc" stroke="#000" stroke-width="2.1"/>
<line x1="842.4" y1="1592.5" x2="842.4" y2="1636.7" stroke-width="1.8"/>
<line x1="838.1" y1="1592.5" x2="846.7" y2="1592.5" stroke-width="1.8"/>
<line x1="838.1" y1="1636.7" x2="846.7" y2="1636.7" stroke-width="1.8"/>
<rect x="833.95" y="1614.65" width="16.9" height="53.15" fill="#707070" stroke="#000" stroke-width="2.1"/>
<line x1="868.2" y1="1567.9" x2="868.2" y2="1601.1" stroke-width="1.8"/>
<line x1="863.9" y1="1567.9" x2="872.5" y2="1567.9" stroke-width="1.8"/>
<line x1="863.9" y1="1601.1" x2="872.5" y2="1601.1" stroke-width="1.8"/>
<rect x="859.75" y="1584.55" width="16.9" height="83.25" fill="#dcdcdc" stroke="#000" stroke-width="2.1"/>
<circle cx="712.57" cy="1577.11" r="2.1"/>
<circle cx="712.57" cy="1588.07" r="2.1"/>
<circle cx="709.75" cy="1592.77" r="2.1"/>
<circle cx="715.23" cy="1598.72" r="2.1"/>
<circle cx="712.57" cy="1607.33" r="2.1"/>
<circle cx="712.57" cy="1626.6" r="2.1"/>
<circle cx="715.7" cy="1631.61" r="2.1"/>
<circle cx="709.75" cy="1634.74" r="2.1"/>
<circle cx="764.25" cy="1628.01" r="2.1"/>
<circle cx="761.43" cy="1633.96" r="2.1"/>
<circle cx="767.38" cy="1638.34" r="2.1"/>
<circle cx="761.43" cy="1645.23" r="2.1"/>
<circle cx="767.38" cy="1644.13" r="2.1"/>
<circle cx="790.08" cy="1611.25" r="2.1"/>
<circle cx="790.08" cy="1635.83" r="2.1"/>
<circle cx="784.13" cy="1647.27" r="2.1"/>
<circle cx="790.08" cy="1651.96" r="2.1"/>
<circle cx="795.88" cy="1651.96" r="2.1"/>
<circle cx="838.94" cy="1616.73" r="2.1"/>
<circle cx="844.74" cy="1620.33" r="2.1"/>
<circle cx="842.07" cy="1640.69" r="2.1"/>
<circle cx="842.07" cy="1647.27" r="2.1"/>
<circle cx="842.07" cy="1654" r="2.1"/>
<circle cx="867.6" cy="1545.79" r="2.1"/>
<circle cx="864.78" cy="1596.84" r="2.1"/>
<circle cx="870.57" cy="1593.24" r="2.1"/>
<circle cx="867.6" cy="1611.25" r="2.1"/>
<circle cx="867.6" cy="1630.51" r="2.1"/>
<circle cx="841.81" cy="1508.39" r="2.1"/>
<circle cx="868.07" cy="1527.39" r="2.1"/>
<text class="sb" transform="translate(757.36 1697.52) scale(0.9674 1)" font-size="32.53" stroke-width="1.36">d1</text>
<text class="sb" transform="translate(837.73 1697.52) scale(1.0592 1)" font-size="32.53" stroke-width="1.36">d7</text>
<line x1="710.7" y1="1442" x2="769.1" y2="1442" stroke-width="1.9"/>
<line x1="809.4" y1="1442" x2="865.2" y2="1442" stroke-width="1.9"/>
<text class="b" transform="translate(773.87 1450) scale(1.0163 1)" font-size="24">NS</text>
<line x1="943.6" y1="1421.6" x2="943.6" y2="1668.8" stroke-width="2.1"/>
<line x1="937.9" y1="1667.8" x2="1137.5" y2="1667.8" stroke-width="2.1"/>
<line x1="937.9" y1="1667.8" x2="943.6" y2="1667.8" stroke-width="2"/>
<text class="b" transform="translate(922.02 1675.7) scale(1.0000 1)" font-size="25.4">0</text>
<line x1="937.9" y1="1606.3" x2="943.6" y2="1606.3" stroke-width="2"/>
<text class="b" transform="translate(921.99 1614.2) scale(1.0000 1)" font-size="25.4">2</text>
<line x1="937.9" y1="1544.8" x2="943.6" y2="1544.8" stroke-width="2"/>
<text class="b" transform="translate(921.11 1552.7) scale(1.0000 1)" font-size="25.4">4</text>
<line x1="937.9" y1="1483.3" x2="943.6" y2="1483.3" stroke-width="2"/>
<text class="b" transform="translate(921.89 1491.2) scale(1.0000 1)" font-size="25.4">6</text>
<line x1="937.9" y1="1421.8" x2="943.6" y2="1421.8" stroke-width="2"/>
<text class="b" transform="translate(921.76 1429.7) scale(1.0000 1)" font-size="25.4">8</text>
<line x1="961.9" y1="1633.5" x2="961.9" y2="1644.3" stroke-width="1.8"/>
<line x1="957.6" y1="1633.5" x2="966.2" y2="1633.5" stroke-width="1.8"/>
<line x1="957.6" y1="1644.3" x2="966.2" y2="1644.3" stroke-width="1.8"/>
<rect x="953.45" y="1638.95" width="16.9" height="28.85" fill="#fff" stroke="#000" stroke-width="2.1"/>
<line x1="1014.6" y1="1650.9" x2="1014.6" y2="1661" stroke-width="1.8"/>
<line x1="1010.3" y1="1650.9" x2="1018.9" y2="1650.9" stroke-width="1.8"/>
<line x1="1010.3" y1="1661" x2="1018.9" y2="1661" stroke-width="1.8"/>
<rect x="1006.15" y="1656.45" width="16.9" height="11.35" fill="#707070" stroke="#000" stroke-width="2.1"/>
<line x1="1040.7" y1="1654.3" x2="1040.7" y2="1655.3" stroke-width="1.8"/>
<line x1="1036.4" y1="1654.3" x2="1045" y2="1654.3" stroke-width="1.8"/>
<line x1="1036.4" y1="1655.3" x2="1045" y2="1655.3" stroke-width="1.8"/>
<rect x="1032.25" y="1654.85" width="16.9" height="12.95" fill="#dcdcdc" stroke="#000" stroke-width="2.1"/>
<line x1="1092.8" y1="1611.2" x2="1092.8" y2="1631" stroke-width="1.8"/>
<line x1="1088.5" y1="1611.2" x2="1097.1" y2="1611.2" stroke-width="1.8"/>
<line x1="1088.5" y1="1631" x2="1097.1" y2="1631" stroke-width="1.8"/>
<rect x="1084.35" y="1621.35" width="16.9" height="46.45" fill="#707070" stroke="#000" stroke-width="2.1"/>
<line x1="1119.5" y1="1564" x2="1119.5" y2="1616" stroke-width="1.8"/>
<line x1="1115.2" y1="1564" x2="1123.8" y2="1564" stroke-width="1.8"/>
<line x1="1115.2" y1="1616" x2="1123.8" y2="1616" stroke-width="1.8"/>
<rect x="1111.05" y="1590.35" width="16.9" height="77.45" fill="#dcdcdc" stroke="#000" stroke-width="2.1"/>
<circle cx="959.75" cy="1620.18" r="2.1"/>
<circle cx="963.2" cy="1620.18" r="2.1"/>
<circle cx="962.57" cy="1632.7" r="2.1"/>
<circle cx="962.57" cy="1638.97" r="2.1"/>
<circle cx="956.62" cy="1645.23" r="2.1"/>
<circle cx="962.88" cy="1648.05" r="2.1"/>
<circle cx="966.8" cy="1648.05" r="2.1"/>
<circle cx="1013.78" cy="1642.88" r="2.1"/>
<circle cx="1011.43" cy="1656.66" r="2.1"/>
<circle cx="1014.56" cy="1659.01" r="2.1"/>
<circle cx="1019.26" cy="1659.79" r="2.1"/>
<circle cx="1039.93" cy="1653.06" r="2.1"/>
<circle cx="1092.07" cy="1592.93" r="2.1"/>
<circle cx="1092.39" cy="1607.33" r="2.1"/>
<circle cx="1087.85" cy="1616.42" r="2.1"/>
<circle cx="1096.77" cy="1621.11" r="2.1"/>
<circle cx="1092.07" cy="1630.35" r="2.1"/>
<circle cx="1092.39" cy="1652.28" r="2.1"/>
<circle cx="1114.47" cy="1594.34" r="2.1"/>
<circle cx="1123.39" cy="1595.12" r="2.1"/>
<circle cx="1118.38" cy="1612.03" r="2.1"/>
<circle cx="1114.47" cy="1629.73" r="2.1"/>
<circle cx="1123.08" cy="1635.05" r="2.1"/>
<circle cx="1117.82" cy="1468.16" r="2.1"/>
<text class="sb" transform="translate(1010 1697.52) scale(0.9343 1)" font-size="32.53" stroke-width="1.36">d1</text>
<text class="sb" transform="translate(1090.59 1697.52) scale(1.0200 1)" font-size="32.53" stroke-width="1.36">d7</text>
<polyline points="1011.3,1457.5 1011.3,1451 1097.8,1451" stroke-width="2"/>
<text class="st" x="1099.3" y="1464.13" font-size="26">*</text>
<polyline points="1114,1451 1118.3,1451 1118.3,1457.5" stroke-width="2"/>
<line x1="1192.4" y1="1421.6" x2="1192.4" y2="1668.8" stroke-width="2.1"/>
<line x1="1186.7" y1="1667.8" x2="1382.8" y2="1667.8" stroke-width="2.1"/>
<line x1="1186.7" y1="1667.8" x2="1192.4" y2="1667.8" stroke-width="2"/>
<text class="b" transform="translate(1170.82 1675.7) scale(1.0000 1)" font-size="25.4">0</text>
<line x1="1186.7" y1="1586.15" x2="1192.4" y2="1586.15" stroke-width="2"/>
<text class="b" transform="translate(1170.48 1594.05) scale(1.0000 1)" font-size="25.4">5</text>
<line x1="1186.7" y1="1504.5" x2="1192.4" y2="1504.5" stroke-width="2"/>
<text class="b" transform="translate(1156.69 1512.4) scale(1.0000 1)" font-size="25.4">10</text>
<line x1="1186.7" y1="1422.85" x2="1192.4" y2="1422.85" stroke-width="2"/>
<text class="b" transform="translate(1156.35 1430.75) scale(1.0000 1)" font-size="25.4">15</text>
<line x1="1210.4" y1="1646.2" x2="1210.4" y2="1656.6" stroke-width="1.8"/>
<line x1="1206.1" y1="1646.2" x2="1214.7" y2="1646.2" stroke-width="1.8"/>
<line x1="1206.1" y1="1656.6" x2="1214.7" y2="1656.6" stroke-width="1.8"/>
<rect x="1201.95" y="1651.45" width="16.9" height="16.35" fill="#fff" stroke="#000" stroke-width="2.1"/>
<line x1="1262" y1="1663.7" x2="1262" y2="1665.7" stroke-width="1.8"/>
<line x1="1257.7" y1="1663.7" x2="1266.3" y2="1663.7" stroke-width="1.8"/>
<line x1="1257.7" y1="1665.7" x2="1266.3" y2="1665.7" stroke-width="1.8"/>
<rect x="1253.55" y="1664.75" width="16.9" height="3.05" fill="#707070" stroke="#000" stroke-width="2.1"/>
<line x1="1288.4" y1="1590.9" x2="1288.4" y2="1617" stroke-width="1.8"/>
<line x1="1284.1" y1="1590.9" x2="1292.7" y2="1590.9" stroke-width="1.8"/>
<line x1="1284.1" y1="1617" x2="1292.7" y2="1617" stroke-width="1.8"/>
<rect x="1279.95" y="1604.45" width="16.9" height="63.35" fill="#dcdcdc" stroke="#000" stroke-width="2.1"/>
<line x1="1340.3" y1="1657.5" x2="1340.3" y2="1660.5" stroke-width="1.8"/>
<line x1="1336" y1="1657.5" x2="1344.6" y2="1657.5" stroke-width="1.8"/>
<line x1="1336" y1="1660.5" x2="1344.6" y2="1660.5" stroke-width="1.8"/>
<rect x="1331.85" y="1659.25" width="16.9" height="8.55" fill="#707070" stroke="#000" stroke-width="2.1"/>
<line x1="1366.7" y1="1544.7" x2="1366.7" y2="1607.7" stroke-width="1.8"/>
<line x1="1362.4" y1="1544.7" x2="1371" y2="1544.7" stroke-width="1.8"/>
<line x1="1362.4" y1="1607.7" x2="1371" y2="1607.7" stroke-width="1.8"/>
<rect x="1358.25" y="1576.25" width="16.9" height="91.55" fill="#dcdcdc" stroke="#000" stroke-width="2.1"/>
<circle cx="1212.88" cy="1633.96" r="2.1"/>
<circle cx="1206.93" cy="1638.97" r="2.1"/>
<circle cx="1203.8" cy="1659.32" r="2.1"/>
<circle cx="1210.07" cy="1662.14" r="2.1"/>
<circle cx="1216.33" cy="1660.89" r="2.1"/>
<circle cx="1268.47" cy="1660.89" r="2.1"/>
<circle cx="1261.43" cy="1664.49" r="2.1"/>
<circle cx="1256.73" cy="1664.96" r="2.1"/>
<circle cx="1288.05" cy="1563.49" r="2.1"/>
<circle cx="1288.05" cy="1585.1" r="2.1"/>
<circle cx="1288.05" cy="1615.63" r="2.1"/>
<circle cx="1288.05" cy="1624.56" r="2.1"/>
<circle cx="1288.05" cy="1631.92" r="2.1"/>
<circle cx="1334.24" cy="1656.19" r="2.1"/>
<circle cx="1338.16" cy="1657.76" r="2.1"/>
<circle cx="1342.86" cy="1657.76" r="2.1"/>
<circle cx="1345.99" cy="1656.66" r="2.1"/>
<circle cx="1366.03" cy="1596.06" r="2.1"/>
<circle cx="1366.03" cy="1613.13" r="2.1"/>
<circle cx="1366.03" cy="1658.54" r="2.1"/>
<circle cx="1365.89" cy="1482.13" r="2.1"/>
<circle cx="1365.89" cy="1529.06" r="2.1"/>
<text class="sb" transform="translate(1256.08 1697.52) scale(0.9493 1)" font-size="32.53" stroke-width="1.36">d1</text>
<text class="sb" transform="translate(1336.62 1697.52) scale(1.0682 1)" font-size="32.53" stroke-width="1.36">d7</text>
<polyline points="1209.5,1446.3 1209.5,1439.8 1345.9,1439.8" stroke-width="2"/>
<text class="st" x="1346.8" y="1452.93" font-size="26">*</text>
<polyline points="1361.3,1439.8 1365.5,1439.8 1365.5,1446.3" stroke-width="2"/>
<polyline points="1261.2,1470.2 1261.2,1464 1346.2,1464" stroke-width="2"/>
<line x1="1340" y1="1464" x2="1340" y2="1470.2" stroke-width="2"/>
<text class="st" x="1347.6" y="1470.33" font-size="26">*</text>
<text class="st" x="1347.6" y="1484.33" font-size="26">*</text>
<polyline points="1361.3,1464 1365.5,1464 1365.5,1470.2" stroke-width="2"/>
</svg>
</body></html>
